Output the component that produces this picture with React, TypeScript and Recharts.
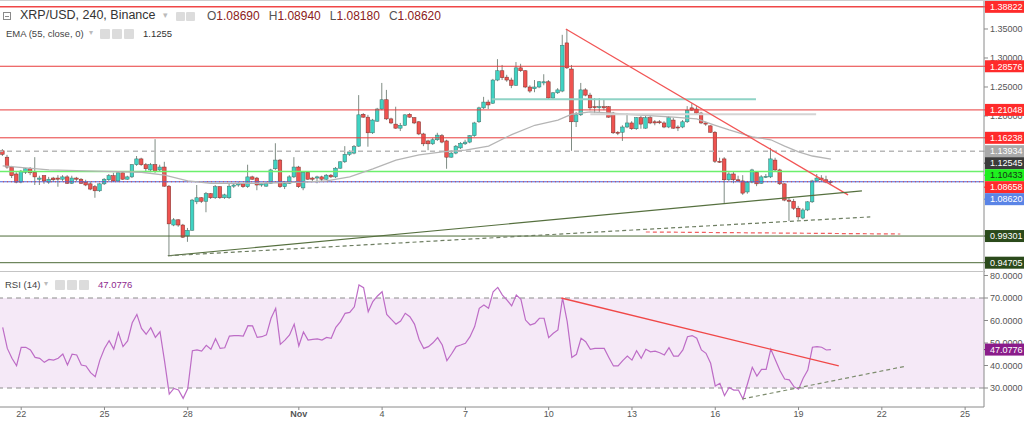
import React from 'react';
import { ComposedChart, Bar, Line, XAxis, YAxis, ReferenceLine, ReferenceArea } from 'recharts';

// ---------- data ----------
// 4h candles XRP/USD, [open, high, low, close]; index 0 = Oct 21 08:00
const CANDLES: number[][] = [
  [1.140,1.143,1.131,1.134],[1.129,1.133,1.109,1.112],[1.112,1.114,1.093,1.097],[1.100,1.103,1.084,1.086],[1.086,1.107,1.084,1.105],
  [1.103,1.110,1.100,1.109],[1.109,1.112,1.098,1.102],[1.103,1.129,1.081,1.095],[1.091,1.097,1.081,1.093],[1.097,1.098,1.083,1.088],
  [1.086,1.095,1.083,1.091],[1.093,1.095,1.086,1.090],[1.093,1.098,1.078,1.091],[1.091,1.098,1.088,1.095],[1.095,1.098,1.083,1.084],
  [1.084,1.097,1.083,1.093],[1.093,1.095,1.088,1.091],[1.091,1.093,1.083,1.084],[1.086,1.090,1.079,1.081],[1.083,1.086,1.072,1.074],
  [1.078,1.081,1.059,1.071],[1.071,1.084,1.069,1.083],[1.083,1.093,1.081,1.091],[1.090,1.100,1.088,1.097],[1.097,1.102,1.086,1.088],
  [1.088,1.103,1.086,1.102],[1.102,1.103,1.090,1.091],[1.091,1.097,1.090,1.095],[1.095,1.117,1.093,1.116],[1.116,1.131,1.114,1.126],
  [1.126,1.128,1.114,1.116],[1.116,1.119,1.105,1.109],[1.107,1.119,1.103,1.116],[1.116,1.160,1.102,1.105],[1.107,1.116,1.105,1.112],
  [1.112,1.121,1.078,1.079],[1.079,1.081,0.959,1.014],[1.012,1.024,1.010,1.021],[1.021,1.022,1.009,1.012],[1.012,1.014,0.990,0.991],
  [0.993,1.007,0.983,1.003],[1.003,1.057,1.002,1.055],[1.052,1.081,1.048,1.059],[1.059,1.060,1.050,1.053],[1.053,1.069,1.034,1.066],
  [1.066,1.067,1.057,1.059],[1.059,1.081,1.057,1.078],[1.078,1.079,1.057,1.059],[1.059,1.066,1.057,1.064],[1.059,1.083,1.057,1.079],
  [1.079,1.083,1.076,1.081],[1.081,1.086,1.078,1.083],[1.083,1.084,1.076,1.078],[1.078,1.116,1.076,1.095],[1.095,1.097,1.090,1.091],
  [1.093,1.095,1.072,1.081],[1.081,1.084,1.078,1.083],[1.079,1.086,1.078,1.084],[1.084,1.109,1.083,1.107],[1.109,1.153,1.107,1.124],
  [1.124,1.126,1.076,1.078],[1.078,1.088,1.074,1.084],[1.084,1.098,1.083,1.095],[1.095,1.129,1.093,1.112],[1.112,1.114,1.076,1.078],
  [1.076,1.105,1.072,1.103],[1.103,1.105,1.090,1.091],[1.093,1.095,1.086,1.091],[1.093,1.097,1.084,1.095],[1.095,1.097,1.086,1.091],
  [1.091,1.100,1.090,1.098],[1.098,1.100,1.093,1.095],[1.095,1.112,1.093,1.110],[1.110,1.122,1.109,1.121],[1.121,1.148,1.119,1.134],
  [1.134,1.141,1.131,1.138],[1.136,1.150,1.134,1.147],[1.148,1.236,1.147,1.202],[1.203,1.205,1.197,1.198],[1.198,1.202,1.147,1.171],
  [1.171,1.195,1.169,1.193],[1.191,1.214,1.190,1.212],[1.212,1.257,1.210,1.228],[1.228,1.245,1.193,1.195],[1.195,1.197,1.186,1.188],
  [1.186,1.216,1.178,1.179],[1.179,1.188,1.174,1.184],[1.184,1.203,1.183,1.202],[1.203,1.205,1.197,1.198],[1.197,1.198,1.186,1.188],
  [1.190,1.191,1.167,1.169],[1.169,1.171,1.148,1.152],[1.157,1.159,1.141,1.152],[1.152,1.162,1.150,1.159],[1.159,1.171,1.157,1.167],
  [1.166,1.169,1.153,1.155],[1.157,1.159,1.109,1.129],[1.129,1.141,1.128,1.136],[1.136,1.150,1.134,1.148],[1.145,1.155,1.143,1.153],
  [1.152,1.159,1.150,1.155],[1.155,1.167,1.153,1.166],[1.166,1.190,1.164,1.188],[1.190,1.216,1.188,1.214],[1.214,1.233,1.212,1.224],
  [1.224,1.228,1.212,1.219],[1.222,1.264,1.221,1.262],[1.262,1.298,1.260,1.278],[1.278,1.288,1.262,1.266],[1.267,1.271,1.259,1.262],
  [1.262,1.266,1.248,1.253],[1.253,1.293,1.252,1.283],[1.283,1.290,1.276,1.278],[1.278,1.279,1.248,1.250],[1.250,1.253,1.240,1.243],
  [1.247,1.262,1.241,1.250],[1.250,1.260,1.248,1.259],[1.257,1.272,1.253,1.259],[1.259,1.262,1.229,1.231],[1.231,1.241,1.229,1.240],
  [1.240,1.248,1.238,1.245],[1.243,1.340,1.241,1.322],[1.326,1.350,1.281,1.283],[1.281,1.288,1.140,1.190],[1.190,1.207,1.181,1.202],
  [1.202,1.257,1.200,1.245],[1.245,1.248,1.234,1.236],[1.236,1.240,1.210,1.214],[1.216,1.231,1.205,1.215],[1.215,1.231,1.207,1.216],
  [1.216,1.229,1.210,1.214],[1.216,1.217,1.197,1.198],[1.205,1.207,1.169,1.171],[1.172,1.174,1.167,1.171],[1.172,1.184,1.157,1.181],
  [1.181,1.205,1.179,1.188],[1.188,1.191,1.176,1.178],[1.178,1.198,1.176,1.197],[1.197,1.200,1.178,1.186],[1.179,1.200,1.178,1.197],
  [1.197,1.200,1.186,1.188],[1.190,1.193,1.184,1.188],[1.190,1.193,1.186,1.189],[1.188,1.191,1.179,1.181],[1.181,1.200,1.179,1.197],
  [1.193,1.197,1.178,1.179],[1.181,1.184,1.174,1.180],[1.181,1.193,1.179,1.190],[1.190,1.217,1.188,1.210],[1.214,1.222,1.209,1.210],
  [1.212,1.217,1.203,1.205],[1.205,1.207,1.186,1.188],[1.188,1.190,1.183,1.186],[1.183,1.184,1.171,1.172],[1.172,1.174,1.119,1.122],
  [1.122,1.128,1.119,1.121],[1.126,1.129,1.050,1.090],[1.090,1.103,1.088,1.100],[1.100,1.105,1.084,1.090],[1.090,1.097,1.086,1.088],
  [1.088,1.098,1.064,1.067],[1.069,1.088,1.066,1.086],[1.086,1.109,1.084,1.107],[1.103,1.105,1.079,1.083],[1.084,1.098,1.083,1.095],
  [1.095,1.100,1.093,1.096],[1.095,1.145,1.093,1.126],[1.124,1.128,1.105,1.107],[1.107,1.109,1.081,1.083],[1.083,1.084,1.053,1.055],
  [1.055,1.059,1.019,1.053],[1.053,1.057,1.038,1.041],[1.041,1.045,1.021,1.026],[1.024,1.041,1.022,1.038],[1.038,1.053,1.036,1.052],
  [1.052,1.090,1.050,1.088],[1.088,1.100,1.086,1.093],[1.093,1.098,1.086,1.090],[1.090,1.097,1.084,1.086],[1.0869,1.0894,1.0818,1.0862],
];

// EMA(55) read at some candle indices
const EMA_IDX = [0,10,20,30,35,40,45,55,65,70,75,80,85,90,95,100,105,110,115,120,123,127,135,145,150,154,157,162,166,169,172,175,179];
const EMA_VAL = [1.114,1.107,1.105,1.103,1.098,1.088,1.084,1.084,1.086,1.088,1.095,1.109,1.124,1.133,1.138,1.141,1.148,1.168,1.184,1.193,1.203,1.207,1.203,1.198,1.195,1.184,1.176,1.164,1.159,1.148,1.138,1.131,1.1255];

// RSI(14), one per candle
const RSI_VALUES = [
  57.0,47.6,43.2,39.9,48.1,48.1,46.9,43.6,43.2,41.4,
  42.7,42.4,43.2,45.1,40.2,45.0,44.7,40.2,39.8,36.8,
  35.0,42.4,47.6,51.0,47.3,54.6,48.4,50.9,59.0,62.7,
  56.5,53.9,56.8,52.5,55.0,41.7,27.3,29.8,29.1,25.4,
  29.8,46.6,46.9,46.4,49.0,47.2,51.9,47.6,47.9,53.1,
  53.3,53.3,53.1,57.7,57.6,52.5,52.8,53.6,61.0,65.4,
  49.4,51.3,53.6,58.4,48.7,54.9,51.3,51.6,51.8,51.3,
  52.5,52.1,57.0,59.5,63.2,63.6,66.1,75.8,74.6,63.9,
  68.4,70.9,72.8,62.7,60.5,58.4,59.8,63.2,61.7,58.4,
  51.6,47.6,48.4,50.1,52.4,49.1,42.2,45.1,48.4,49.1,
  49.9,52.8,57.3,65.4,66.9,65.4,72.8,74.7,71.3,69.1,
  66.5,71.3,69.4,60.2,58.0,58.7,61.0,61.0,52.4,54.3,
  55.8,70.1,59.5,43.6,45.0,52.1,50.6,47.2,47.6,47.6,
  47.6,43.6,39.8,39.8,42.2,44.2,42.4,46.6,43.2,47.2,
  46.1,46.4,45.7,44.7,47.9,44.2,44.2,46.9,52.8,53.3,
  52.1,46.9,45.4,41.0,30.9,32.1,26.6,30.2,29.1,29.1,
  25.1,32.1,39.2,35.3,38.3,38.3,47.3,42.4,37.7,34.0,
  33.6,30.6,29.5,34.3,38.0,48.1,48.4,48.1,46.9,47.0776,
];

const X_TICK_IDX = [4, 22, 40, 64, 82, 100, 118, 136, 154, 172, 190, 208];
const X_TICK_LABELS = ['22', '25', '28', 'Nov', '4', '7', '10', '13', '16', '19', '22', '25'];
const PRICE_TICKS = [1.35, 1.30, 1.25, 1.20];
const RSI_TICKS = [80, 70, 60, 50, 40, 30];
const RSI_LAST = 47.0776;

const PRICE_TAGS = [
  { v: 1.38822, bg: '#ff2b2b', fg: '#ffffff' },
  { v: 1.28576, bg: '#ff2b2b', fg: '#ffffff' },
  { v: 1.21048, bg: '#ff2b2b', fg: '#ffffff' },
  { v: 1.16238, bg: '#ff2b2b', fg: '#ffffff' },
  { v: 1.13934, bg: '#a9a9a9', fg: '#ffffff' },
  { v: 1.12545, bg: '#3b3b3b', fg: '#ffffff' },
  { v: 1.10433, bg: '#1ff01f', fg: '#173317' },
  { v: 1.08658, bg: '#ff2b2b', fg: '#ffffff' },
  { v: 1.0862, bg: '#5a84e6', fg: '#ffffff' },
  { v: 0.99301, bg: '#2b4a1b', fg: '#ffffff' },
  { v: 0.94705, bg: '#2b4a1b', fg: '#ffffff' },
];

const H_LINES = [
  { v: 1.38822, stroke: '#f04646', w: 1.5, dash: undefined },
  { v: 1.28576, stroke: '#e83b3b', w: 1, dash: undefined },
  { v: 1.21048, stroke: '#e83b3b', w: 1, dash: undefined },
  { v: 1.16238, stroke: '#e83b3b', w: 1, dash: undefined },
  { v: 1.13934, stroke: '#b8b8b8', w: 1.5, dash: '5 4' },
  { v: 1.10433, stroke: '#6cf06c', w: 1.5, dash: undefined },
  { v: 1.08658, stroke: '#4a62d8', w: 1, dash: undefined },
  { v: 1.08658, stroke: '#e04040', w: 1, dash: '1 3' },
  { v: 0.99301, stroke: '#4d6b38', w: 1, dash: undefined },
  { v: 0.94705, stroke: '#4d6b38', w: 1, dash: undefined },
];

const PRICE_SEGMENTS = [
  { x1: 105.7, y1: 1.229, x2: 162.8, y2: 1.229, stroke: '#8fd3c6', w: 2, dash: undefined },
  { x1: 127, y1: 1.203, x2: 175.8, y2: 1.203, stroke: '#d4d4d4', w: 2, dash: undefined },
  { x1: 121.7, y1: 1.35, x2: 182.7, y2: 1.064, stroke: '#f25555', w: 1.3, dash: undefined },
  { x1: 35.7, y1: 0.959, x2: 185.7, y2: 1.071, stroke: '#56703f', w: 1.2, dash: undefined },
  { x1: 35.7, y1: 0.959, x2: 187.5, y2: 1.026, stroke: '#6e7e62', w: 1.2, dash: '4 3' },
  { x1: 139, y1: 1.0, x2: 194, y2: 0.9965, stroke: '#f06060', w: 1.2, dash: '4 3' },
];

const RSI_SEGMENTS = [
  { x1: 120.7, y1: 70, x2: 180.7, y2: 39.8, stroke: '#f04848', w: 1.3, dash: undefined },
  { x1: 159.8, y1: 25.1, x2: 195.4, y2: 39.8, stroke: '#7d8c6e', w: 1.2, dash: '4 3' },
];

const X_DOMAIN = [-0.58, 212.08];
const PRICE_DOMAIN = [0.931, 1.4];
const RSI_DOMAIN = [21.56, 82];

// ---------- layout / style ----------
const W = 1024;
const TOP_H = 272;
const RSI_TOP = 271;
const RSI_H = 151;
const AXIS_W = 40;
const TAG_H = 12;
const FONT = '"Liberation Sans", Arial, sans-serif';
const UP_FILL = '#3fd3c3';
const UP_STROKE = '#3f6f68';
const DOWN_FILL = '#ef5350';
const DOWN_STROKE = '#7a2e2a';
const WICK = '#7f8c84';

const priceData = CANDLES.map(([o, h, l, c], i) => ({ i, o, h, l, c, ema: null as number | null }));
EMA_IDX.forEach((k, j) => {
  priceData[k].ema = EMA_VAL[j];
});
const rsiData = RSI_VALUES.map((r, i) => ({ i, rsi: r }));

// label collision shifting (like the price scale does)
const tagShift = new Map<number, number>();
(() => {
  const span = PRICE_DOMAIN[1] - PRICE_DOMAIN[0];
  const toPx = (v: number) => ((PRICE_DOMAIN[1] - v) / span) * TOP_H;
  let prev = -1e9;
  [...PRICE_TAGS].sort((a, b) => b.v - a.v).forEach((t) => {
    const raw = toPx(t.v);
    let y = raw;
    if (y < prev + TAG_H) y = prev + TAG_H;
    prev = y;
    tagShift.set(t.v, y - raw);
  });
})();
const tagByValue = new Map(PRICE_TAGS.map((t) => [t.v, t]));

const Candle = (props: any) => {
  const { x, y, width, height, payload } = props;
  if (!payload || height == null) return null;
  const { o, h, l, c } = payload;
  const cx = x + width / 2;
  const k = h - l > 0 ? height / (h - l) : 0;
  const yOf = (v: number) => y + (h - v) * k;
  const up = c >= o;
  const top = yOf(Math.max(o, c));
  const bot = yOf(Math.min(o, c));
  const bh = Math.max(1, bot - top);
  return (
    <g>
      <line x1={cx} x2={cx} y1={y} y2={y + height} stroke={WICK} strokeWidth={1} />
      <rect x={cx - 1.8} y={top} width={3.6} height={bh} fill={up ? UP_FILL : DOWN_FILL} stroke={up ? UP_STROKE : DOWN_STROKE} strokeWidth={0.5} />
    </g>
  );
};

const PriceTick = (props: any) => {
  const { x, y, payload } = props;
  const v = payload.value;
  const tag = tagByValue.get(v);
  if (tag) {
    const yy = y + (tagShift.get(v) || 0);
    return (
      <g>
        <rect x={x + 1} y={yy - TAG_H / 2} width={AXIS_W} height={TAG_H} fill={tag.bg} />
        <line x1={x} x2={x + 4} y1={yy} y2={yy} stroke={tag.bg} />
        <text x={x + 6} y={yy + 3.3} fontSize={9} fontFamily={FONT} fill={tag.fg}>{v.toFixed(5)}</text>
      </g>
    );
  }
  return (
    <g>
      <line x1={x} x2={x + 4} y1={y} y2={y} stroke="#8a8a8a" />
      <text x={x + 6} y={y + 3.3} fontSize={9} fontFamily={FONT} fill="#555">{v.toFixed(5)}</text>
    </g>
  );
};

const RsiTick = (props: any) => {
  const { x, y, payload } = props;
  const v = payload.value;
  if (v === RSI_LAST) {
    return (
      <g>
        <rect x={x + 1} y={y - TAG_H / 2} width={AXIS_W} height={TAG_H} fill="#8a1c8a" />
        <line x1={x} x2={x + 4} y1={y} y2={y} stroke="#8a1c8a" />
        <text x={x + 6} y={y + 3.3} fontSize={9} fontFamily={FONT} fill="#fff">{v.toFixed(4)}</text>
      </g>
    );
  }
  return (
    <g>
      <line x1={x} x2={x + 4} y1={y} y2={y} stroke="#8a8a8a" />
      <text x={x + 6} y={y + 3.3} fontSize={9} fontFamily={FONT} fill="#555">{v.toFixed(4)}</text>
    </g>
  );
};

const XTick = (props: any) => {
  const { x, y, payload } = props;
  const idx = X_TICK_IDX.indexOf(payload.value);
  const label = idx >= 0 ? X_TICK_LABELS[idx] : '';
  return (
    <text x={x} y={y + 6} textAnchor="middle" fontSize={9} fontFamily={FONT} fill="#555" fontWeight={label === 'Nov' ? 700 : 400}>
      {label}
    </text>
  );
};

const IconBox = ({ left, top, size = 9 }: { left: number; top: number; size?: number }) => (
  <div style={{ position: 'absolute', left, top, width: size, height: size, background: '#dcdcdc', borderRadius: 1 }} />
);

export default function App() {
  return (
    <div style={{ position: 'absolute', left: 0, top: 0, width: W, height: 422, background: '#fff', fontFamily: FONT, overflow: 'hidden' }}>
      <div style={{ position: 'absolute', left: 0, top: 0 }}>
        <ComposedChart width={W} height={TOP_H} data={priceData} margin={{ top: 0, right: 0, bottom: 0, left: 0 }}>
          <XAxis type="number" dataKey="i" domain={X_DOMAIN} allowDataOverflow hide />
          <YAxis
            orientation="right"
            type="number"
            domain={PRICE_DOMAIN}
            allowDataOverflow
            width={AXIS_W}
            ticks={[...PRICE_TICKS, ...PRICE_TAGS.map((t) => t.v)]}
            interval={0}
            tick={PriceTick}
            tickLine={false}
            tickSize={0}
            tickMargin={0}
            axisLine={{ stroke: '#8a8a8a' }}
          />
          {H_LINES.map((l, i) => (
            <ReferenceLine key={'h' + i} y={l.v} stroke={l.stroke} strokeWidth={l.w} strokeDasharray={l.dash} ifOverflow="hidden" />
          ))}
          <Line dataKey="ema" type="linear" stroke="#b5b5b5" strokeWidth={1.3} dot={false} connectNulls isAnimationActive={false} />
          <Bar dataKey={(d: any) => [d.l, d.h]} barSize={4} shape={Candle} isAnimationActive={false} />
          {PRICE_SEGMENTS.map((s, i) => (
            <ReferenceLine
              key={'s' + i}
              segment={[{ x: s.x1, y: s.y1 }, { x: s.x2, y: s.y2 }]}
              stroke={s.stroke}
              strokeWidth={s.w}
              strokeDasharray={s.dash}
              ifOverflow="hidden"
            />
          ))}
        </ComposedChart>
      </div>

      <div style={{ position: 'absolute', left: 0, top: RSI_TOP }}>
        <ComposedChart width={W} height={RSI_H} data={rsiData} margin={{ top: 0, right: 0, bottom: 0, left: 0 }}>
          <XAxis
            type="number"
            dataKey="i"
            domain={X_DOMAIN}
            allowDataOverflow
            ticks={X_TICK_IDX}
            interval={0}
            height={15}
            tick={XTick}
            tickSize={3}
            tickMargin={1}
            tickLine={{ stroke: '#8a8a8a' }}
            axisLine={{ stroke: '#8a8a8a' }}
          />
          <YAxis
            orientation="right"
            type="number"
            domain={RSI_DOMAIN}
            allowDataOverflow
            width={AXIS_W}
            ticks={[...RSI_TICKS, RSI_LAST]}
            interval={0}
            tick={RsiTick}
            tickLine={false}
            tickSize={0}
            tickMargin={0}
            axisLine={{ stroke: '#8a8a8a' }}
          />
          <ReferenceArea y1={30} y2={70} fill="#9c27b0" fillOpacity={0.1} stroke="none" ifOverflow="hidden" />
          <ReferenceLine y={70} stroke="#8c8c8c" strokeDasharray="5 4" />
          <ReferenceLine y={30} stroke="#8c8c8c" strokeDasharray="5 4" />
          <Line dataKey="rsi" type="linear" stroke="#bd6cc6" strokeWidth={1.2} dot={false} isAnimationActive={false} />
          {RSI_SEGMENTS.map((s, i) => (
            <ReferenceLine
              key={'r' + i}
              segment={[{ x: s.x1, y: s.y1 }, { x: s.x2, y: s.y2 }]}
              stroke={s.stroke}
              strokeWidth={s.w}
              strokeDasharray={s.dash}
              ifOverflow="hidden"
            />
          ))}
        </ComposedChart>
      </div>

      {/* panel borders */}
      <div style={{ position: 'absolute', left: 0, top: 0, width: W, height: 1, background: '#cfcfcf' }} />
      <div style={{ position: 'absolute', left: 0, top: RSI_TOP, width: W - AXIS_W, height: 1, background: '#c4c4c4' }} />

      {/* legend: main series */}
      <div style={{ position: 'absolute', left: 3, top: 12, width: 8, height: 8, border: '1px solid #8a8a8a', boxSizing: 'border-box' }}>
        <div style={{ position: 'absolute', left: 1, top: 2.5, width: 4, height: 1, background: '#8a8a8a' }} />
      </div>
      <div style={{ position: 'absolute', left: 20, top: 8, fontSize: 12.5, color: '#333', whiteSpace: 'nowrap' }}>XRP/USD, 240, Binance</div>
      <div style={{ position: 'absolute', left: 163, top: 10, fontSize: 9, color: '#bbb' }}>▾</div>
      <IconBox left={176} top={12} />
      <IconBox left={186} top={12} />
      <div style={{ position: 'absolute', left: 207, top: 9, fontSize: 12, whiteSpace: 'nowrap', color: '#555' }}>
        <span>O</span><span style={{ color: '#8b2020' }}>1.08690</span>
        <span style={{ marginLeft: 9 }}>H</span><span style={{ color: '#8b2020' }}>1.08940</span>
        <span style={{ marginLeft: 9 }}>L</span><span style={{ color: '#8b2020' }}>1.08180</span>
        <span style={{ marginLeft: 9 }}>C</span><span style={{ color: '#8b2020' }}>1.08620</span>
      </div>

      {/* legend: EMA */}
      <div style={{ position: 'absolute', left: 6, top: 28, fontSize: 9.5, color: '#444', whiteSpace: 'nowrap' }}>EMA (55, close, 0)</div>
      <div style={{ position: 'absolute', left: 89, top: 28, fontSize: 8, color: '#bbb' }}>▾</div>
      <IconBox left={100} top={29} size={10} />
      <IconBox left={112} top={29} size={10} />
      <IconBox left={124} top={29} size={10} />
      <div style={{ position: 'absolute', left: 143, top: 28, fontSize: 9.5, color: '#333' }}>1.1255</div>

      {/* legend: RSI */}
      <div style={{ position: 'absolute', left: 5, top: 279, fontSize: 9.5, color: '#444', whiteSpace: 'nowrap' }}>RSI (14)</div>
      <div style={{ position: 'absolute', left: 44, top: 279, fontSize: 8, color: '#bbb' }}>▾</div>
      <IconBox left={55} top={280} size={10} />
      <IconBox left={67} top={280} size={10} />
      <IconBox left={79} top={280} size={10} />
      <div style={{ position: 'absolute', left: 98, top: 279, fontSize: 9.5, color: '#8e2a8e' }}>47.0776</div>
    </div>
  );
}
